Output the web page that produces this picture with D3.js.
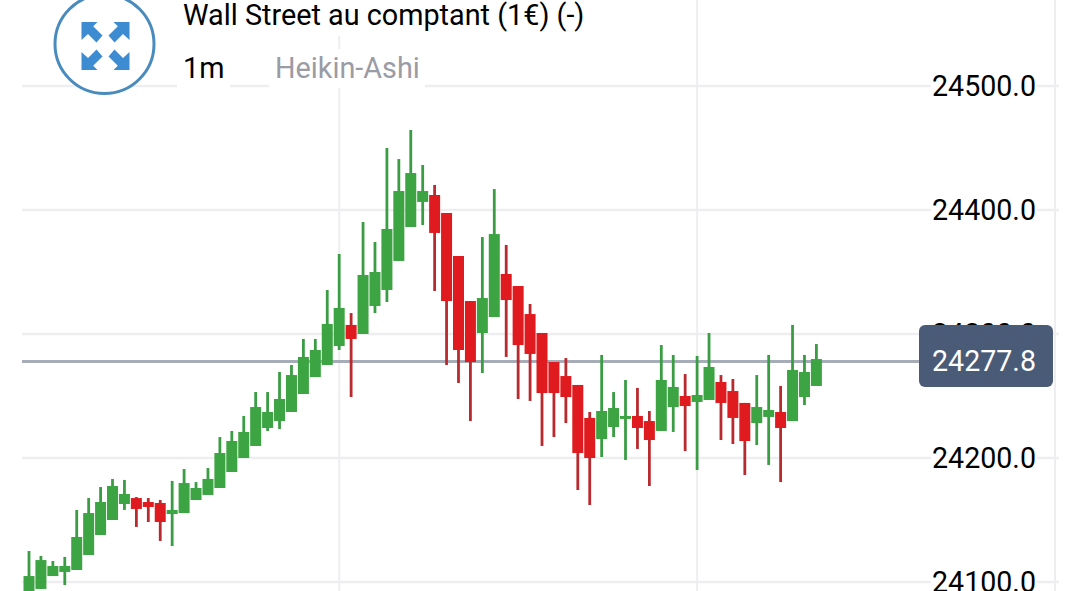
<!DOCTYPE html>
<html>
<head>
<meta charset="utf-8">
<script src="https://d3js.org/d3.v7.min.js"></script>
<style>
  html, body { margin: 0; padding: 0; background: #fff; overflow: hidden; }
  svg { display: block; font-family: Roboto, sans-serif; }
</style>
</head>
<body>
<svg id="chart" width="1080" height="591"></svg>
<script>
// heikin-ashi candles
const opens = [24088.7,24094.4,24104.8,24108.1,24109.7,24121.8,24137.9,24150.0,24162.9,24167.7,24164.5,24163.7,24154.8,24155.6,24166.1,24170.2,24175.8,24188.7,24200.0,24209.7,24224.2,24229.8,24237.1,24251.6,24265.3,24275.0,24290.3,24307.3,24300.0,24322.6,24335.5,24358.9,24386.3,24406.5,24412.1,24397.6,24362.9,24326.6,24300.8,24313.7,24348.4,24338.7,24316.1,24300.8,24277.4,24266.1,24258.9,24232.3,24215.3,24225.0,24231.5,24233.9,24229.8,24221.8,24241.1,24250.0,24245.2,24246.8,24261.3,24254.0,24244.4,24228.2,24233.1,24237.1,24229.8,24249.2,24258.1];
const highs = [24125.0,24121.0,24116.9,24120.2,24158.1,24167.7,24176.6,24183.1,24182.3,24168.5,24167.7,24166.1,24181.5,24191.1,24180.6,24191.9,24216.9,24221.8,24233.9,24253.2,24253.2,24269.4,24275.0,24296.0,24296.0,24335.5,24364.5,24316.9,24390.3,24374.2,24450.0,24441.1,24464.5,24436.3,24420.2,24397.6,24362.9,24326.6,24378.2,24416.9,24371.8,24338.7,24324.2,24300.8,24277.4,24280.6,24258.9,24237.1,24283.1,24253.2,24262.9,24256.5,24237.9,24291.1,24283.1,24267.7,24282.3,24300.8,24266.9,24263.7,24244.4,24266.9,24283.1,24258.1,24307.3,24283.1,24291.9];
const lows = [24088.7,24094.4,24104.8,24097.6,24109.7,24121.8,24137.9,24150.0,24158.1,24144.4,24148.4,24133.1,24129.0,24155.6,24166.1,24170.2,24175.8,24188.7,24200.0,24209.7,24221.8,24223.4,24237.1,24251.6,24265.3,24275.0,24287.1,24249.2,24300.0,24316.9,24325.8,24358.9,24386.3,24387.9,24334.7,24275.0,24260.5,24229.8,24268.5,24313.7,24281.5,24247.6,24246.0,24209.7,24216.9,24228.2,24174.2,24162.1,24200.8,24216.9,24198.4,24207.3,24177.4,24221.8,24221.0,24205.6,24190.3,24246.8,24214.5,24211.3,24186.3,24210.5,24194.4,24180.6,24229.8,24242.7,24258.1];
const closes = [24104.8,24117.7,24112.9,24112.9,24136.3,24155.6,24164.5,24177.4,24171.0,24158.9,24160.5,24148.4,24158.1,24179.8,24175.8,24183.1,24204.0,24213.7,24221.0,24241.1,24237.1,24247.6,24266.9,24281.5,24287.1,24308.1,24321.0,24296.0,24347.6,24350.0,24384.7,24415.3,24429.8,24415.3,24381.5,24326.6,24287.1,24277.4,24329.0,24380.6,24327.4,24291.1,24283.9,24252.4,24252.4,24249.2,24204.0,24200.0,24237.9,24240.3,24233.9,24224.2,24214.5,24262.9,24257.3,24241.9,24250.8,24273.4,24244.4,24232.3,24213.7,24241.1,24238.7,24224.2,24271.0,24269.4,24279.8];

const yTicks = [24100, 24200, 24300, 24400, 24500];
const timeGrid = [26, 56, 86];   // candle index of the vertical lines
const lastPrice = 24277.8;
const titleText = "Wall Street au comptant (1€) (-)";
const periodText = "1m";
const typeText = "Heikin-Ashi";

const GREEN = "#3ca442", GREEN_WICK = "#3a9d44";
const RED = "#e01b1f", RED_WICK = "#b92a2e";

const svg = d3.select("#chart");
const x = d3.scaleLinear().domain([0, 66]).range([29, 816.4]);
const y = d3.scaleLinear().domain([24100, 24500]).range([582, 86]);
const idx = d3.range(closes.length);

// grid
svg.append("g").selectAll("line").data(yTicks).join("line")
  .attr("x1", 22).attr("x2", 1059)
  .attr("y1", d => y(d)).attr("y2", d => y(d))
  .attr("stroke", "#eeeef0").attr("stroke-width", 2.5);
svg.append("g").selectAll("line").data(timeGrid).join("line")
  .attr("x1", d => x(d)).attr("x2", d => x(d))
  .attr("y1", 0).attr("y2", 591)
  .attr("stroke", "#eeeef0").attr("stroke-width", 2);

// last price line, under the candles
svg.append("line")
  .attr("x1", 22).attr("x2", 925)
  .attr("y1", y(lastPrice)).attr("y2", y(lastPrice))
  .attr("stroke", "#a6adb9").attr("stroke-width", 3);

// candles
const candles = svg.append("g");
candles.selectAll("line").data(idx).join("line")
  .attr("x1", i => x(i)).attr("x2", i => x(i))
  .attr("y1", i => y(highs[i])).attr("y2", i => y(lows[i]))
  .attr("stroke", i => closes[i] >= opens[i] ? GREEN_WICK : RED_WICK)
  .attr("stroke-width", 2.8);
candles.selectAll("rect").data(idx).join("rect")
  .attr("x", i => x(i) - 5.5).attr("width", 11)
  .attr("y", i => y(Math.max(opens[i], closes[i])))
  .attr("height", i => Math.abs(y(opens[i]) - y(closes[i])))
  .attr("fill", i => closes[i] >= opens[i] ? GREEN : RED);

// price axis, each label on a white box that cuts the grid line
const axis = d3.axisRight(y).tickValues(yTicks).tickSize(0).tickPadding(0).tickFormat(d3.format(".1f"));
const axisG = svg.append("g").attr("transform", "translate(932,0)").call(axis);
axisG.select(".domain").remove();
axisG.selectAll(".tick").insert("rect", "text")
  .attr("x", -1).attr("y", -6).attr("width", 106).attr("height", 12).attr("fill", "#fff");
axisG.selectAll("text")
  .attr("font-family", "Roboto, sans-serif").attr("font-size", 28.6)
  .attr("fill", "#000").attr("dy", "0.33em");

// last price badge
svg.append("rect")
  .attr("x", 919).attr("y", 325).attr("width", 134).attr("height", 62).attr("rx", 6)
  .attr("fill", "#4a5b78");
svg.append("text")
  .attr("x", 932).attr("y", y(lastPrice)).attr("dy", "0.33em")
  .attr("font-size", 28.6).attr("fill", "#fff")
  .text(d3.format(".1f")(lastPrice));

// header labels sit on white boxes that cut the grid
const labels = svg.append("g");
[[177, 0, 413, 36], [177, 49, 53, 39], [269, 49, 156, 39]].forEach(b => {
  labels.append("rect").attr("x", b[0]).attr("y", b[1]).attr("width", b[2]).attr("height", b[3]).attr("fill", "#fff");
});
labels.append("text").attr("x", 183).attr("y", 25).attr("font-size", 28.8).attr("fill", "#000").text(titleText);
labels.append("text").attr("x", 183).attr("y", 78).attr("font-size", 28.8).attr("fill", "#000").text(periodText);
labels.append("text").attr("x", 275).attr("y", 78).attr("font-size", 28.8).attr("fill", "#9b9ba6").text(typeText);

// expand button
const btn = svg.append("g").attr("transform", "translate(104.5,44)");
btn.append("circle").attr("r", 49.5).attr("fill", "#fff").attr("stroke", "#4a8bbd").attr("stroke-width", 3);
const arrow = "M-24,-24 H-8 L-12.3,-19.7 L-3,-10.5 L-9,-3.5 L-17.5,-12 L-24,-6 Z";
[[1, 1], [-1, 1], [1, -1], [-1, -1]].forEach(s => {
  btn.append("path").attr("d", arrow)
    .attr("transform", `translate(1,2) scale(${s[0]},${s[1]})`)
    .attr("fill", "#3d8bd0");
});
</script>
</body>
</html>
